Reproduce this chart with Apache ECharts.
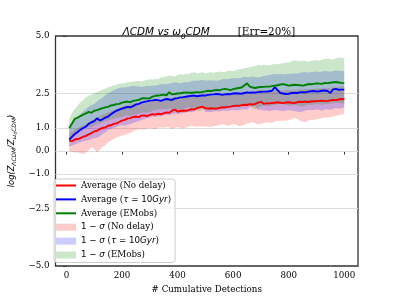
<!DOCTYPE html>
<html>
<head>
<meta charset="utf-8">
<script src="https://cdn.jsdelivr.net/npm/echarts@6/dist/echarts.min.js"></script>
<style>html,body{margin:0;padding:0;background:#fff;}#c{width:399px;height:299px;}</style>
</head>
<body>
<div id="c"></div>
<script>
const detections = [10,20,30,40,50,60,70,80,90,100,110,120,130,140,150,160,170,180,190,200,
210,220,230,240,250,260,270,280,290,300,310,320,330,340,350,360,370,380,390,400,
410,420,430,440,450,460,470,480,490,500,510,520,530,540,550,560,570,580,590,600,
610,620,630,640,650,660,670,680,690,700,710,720,730,740,750,760,770,780,790,800,
810,820,830,840,850,860,870,880,890,900,910,920,930,940,950,960,970,980,990,1000];

const xTicks = [0,200,400,600,800,1000];
const yTicks = [-5,-2.5,-1,0,1,2.5,5];
const yGrid = [-2.5,-1,0,1,2.5];

// Average (No delay)
const avgNoDelay = [0.45,0.43,0.50,0.52,0.56,0.62,0.66,0.72,0.78,0.85,0.88,0.95,1.00,1.03,1.10,1.12,1.18,1.20,1.26,1.32,
1.35,1.42,1.43,1.48,1.50,1.47,1.54,1.55,1.52,1.57,1.60,1.58,1.62,1.60,1.64,1.68,1.66,1.75,1.80,1.72,
1.74,1.76,1.75,1.78,1.82,1.80,1.86,1.90,1.92,1.86,1.84,1.86,1.85,1.84,1.87,1.90,1.89,1.92,1.93,1.95,
1.97,1.96,1.99,2.01,2.00,2.04,2.02,2.05,2.10,2.14,2.05,2.07,2.07,2.09,2.10,2.12,2.10,2.08,2.11,2.12,
2.10,2.08,2.12,2.14,2.13,2.15,2.13,2.15,2.16,2.17,2.18,2.19,2.17,2.18,2.20,2.22,2.21,2.24,2.26,2.25];
// Average (tau = 10Gyr)
const avgTau = [0.50,0.62,0.74,0.82,0.92,1.00,1.06,1.18,1.25,1.30,1.42,1.33,1.38,1.45,1.50,1.60,1.68,1.75,1.80,1.84,
1.88,1.92,1.90,1.95,2.02,2.05,2.10,2.14,2.16,2.19,2.20,2.22,2.21,2.18,2.22,2.26,2.24,2.22,2.28,2.30,
2.33,2.34,2.36,2.38,2.40,2.41,2.38,2.40,2.42,2.41,2.44,2.45,2.46,2.48,2.47,2.44,2.46,2.48,2.47,2.50,
2.51,2.50,2.49,2.52,2.55,2.53,2.55,2.54,2.56,2.57,2.58,2.58,2.60,2.62,2.78,2.65,2.52,2.50,2.48,2.49,
2.52,2.53,2.52,2.55,2.56,2.55,2.58,2.60,2.61,2.59,2.60,2.62,2.63,2.61,2.52,2.68,2.70,2.66,2.67,2.67];
// Average (EMobs)
const avgEM = [1.00,1.20,1.40,1.45,1.52,1.58,1.64,1.70,1.66,1.75,1.78,1.82,1.86,1.90,1.92,1.98,2.00,2.04,2.05,2.10,
2.13,2.15,2.12,2.18,2.20,2.22,2.28,2.30,2.28,2.30,2.36,2.40,2.41,2.43,2.45,2.42,2.56,2.46,2.48,2.50,
2.51,2.53,2.55,2.54,2.53,2.55,2.56,2.55,2.57,2.59,2.62,2.61,2.63,2.65,2.64,2.68,2.70,2.68,2.65,2.69,
2.72,2.74,2.76,2.85,2.94,2.80,2.76,2.74,2.77,2.78,2.79,2.80,2.80,2.82,2.84,2.86,2.89,2.91,2.88,2.84,
2.86,2.88,2.87,2.86,2.84,2.87,2.91,2.90,2.92,2.94,2.93,2.92,2.96,2.95,2.97,2.99,3.00,2.98,2.96,2.95];

// 1-sigma bands
const upNoDelay = [0.80,0.85,0.92,1.00,1.06,1.12,1.18,1.25,1.32,1.40,1.45,1.52,1.58,1.62,1.68,1.72,1.78,1.80,1.86,1.92,
1.95,2.00,2.02,2.06,2.08,2.05,2.10,2.12,2.10,2.14,2.16,2.15,2.18,2.16,2.20,2.24,2.22,2.30,2.34,2.28,
2.30,2.32,2.30,2.34,2.38,2.36,2.40,2.44,2.46,2.40,2.38,2.40,2.40,2.38,2.42,2.44,2.44,2.46,2.47,2.50,
2.52,2.50,2.54,2.56,2.55,2.58,2.56,2.60,2.64,2.68,2.60,2.62,2.62,2.64,2.65,2.66,2.64,2.62,2.65,2.66,
2.64,2.62,2.66,2.68,2.67,2.70,2.68,2.70,2.71,2.72,2.73,2.74,2.72,2.73,2.75,2.77,2.76,2.79,2.81,2.80];
const loNoDelay = [0.01,-0.04,-0.06,-0.05,-0.10,-0.13,-0.06,0.02,0.16,0.09,-0.06,0.05,0.19,0.25,0.38,0.45,0.52,0.59,0.62,0.67,
0.70,0.74,0.80,0.86,0.91,0.93,0.96,0.94,0.98,1.00,0.97,0.95,1.02,1.03,1.00,1.06,1.02,0.96,1.00,1.04,
1.00,0.98,1.02,1.05,1.10,1.06,1.04,1.08,1.06,1.05,1.06,1.04,1.08,1.10,1.12,1.17,1.14,1.10,1.12,1.17,
1.15,1.08,1.10,1.14,1.20,1.22,1.25,1.20,1.16,1.18,1.22,1.25,1.24,1.22,1.28,1.32,1.30,1.33,1.31,1.34,
1.38,1.43,1.40,1.32,1.28,1.25,1.32,1.36,1.34,1.38,1.40,1.42,1.46,1.45,1.48,1.50,1.52,1.56,1.58,1.61];
const upTau = [1.00,1.18,1.32,1.48,1.61,1.72,1.83,1.92,2.00,2.04,2.15,2.25,2.33,2.42,2.51,2.58,2.65,2.70,2.74,2.77,
2.76,2.78,2.80,2.84,2.82,2.80,2.78,2.80,2.84,2.83,2.85,2.84,2.88,2.90,2.91,2.90,2.94,2.96,2.99,2.97,
2.95,2.98,3.00,2.99,3.04,3.06,3.05,3.08,3.09,3.06,3.07,3.08,3.06,3.05,3.08,3.12,3.13,3.12,3.15,3.16,
3.17,3.15,3.20,3.23,3.22,3.21,3.24,3.22,3.20,3.22,3.26,3.28,3.30,3.33,3.35,3.34,3.35,3.33,3.35,3.36,
3.35,3.38,3.36,3.40,3.42,3.44,3.41,3.42,3.45,3.46,3.44,3.46,3.48,3.47,3.45,3.48,3.50,3.49,3.48,3.49];
const loTau = [0.19,0.24,0.28,0.34,0.38,0.42,0.45,0.48,0.52,0.55,0.58,0.64,0.74,0.82,0.91,0.96,1.00,1.04,1.10,1.12,
1.10,1.14,1.17,1.22,1.26,1.30,1.34,1.38,1.42,1.46,1.50,1.48,1.52,1.50,1.55,1.58,1.56,1.60,1.62,1.60,
1.63,1.65,1.67,1.70,1.68,1.72,1.88,1.92,1.90,1.70,1.68,1.70,1.72,1.74,1.72,1.75,1.76,1.74,1.77,1.78,
1.76,1.78,1.80,1.82,1.80,1.90,1.95,1.92,1.78,1.80,1.75,1.76,1.74,1.76,1.78,1.77,1.75,1.73,1.76,1.78,
1.76,1.74,1.72,1.70,1.72,1.76,1.78,1.77,1.78,1.80,1.78,1.76,1.80,1.82,1.78,1.84,1.86,1.84,1.87,1.88];
const upEM = [1.39,1.65,1.83,1.98,2.12,2.22,2.33,2.40,2.45,2.50,2.56,2.62,2.66,2.72,2.77,2.80,2.86,2.88,2.92,2.94,
2.96,2.99,3.00,3.02,3.03,3.05,3.02,3.06,3.10,3.12,3.10,3.14,3.13,3.18,3.22,3.24,3.28,3.26,3.24,3.30,
3.34,3.32,3.36,3.34,3.40,3.42,3.38,3.40,3.42,3.38,3.40,3.42,3.40,3.44,3.46,3.44,3.43,3.48,3.50,3.47,
3.52,3.55,3.56,3.60,3.62,3.64,3.68,3.70,3.74,3.72,3.75,3.73,3.72,3.76,3.78,3.77,3.80,3.82,3.86,3.84,
3.90,3.95,3.92,3.90,3.94,3.92,3.88,3.92,3.94,3.96,3.92,3.98,4.00,4.02,4.00,3.98,4.03,4.05,4.06,4.03];
const loEM = [0.55,0.65,0.75,0.82,0.90,0.95,1.00,1.05,1.02,1.10,1.15,1.20,1.25,1.30,1.32,1.38,1.40,1.45,1.46,1.50,
1.52,1.55,1.52,1.58,1.60,1.62,1.66,1.68,1.66,1.70,1.74,1.78,1.80,1.82,1.84,1.80,1.86,1.82,1.80,1.78,
1.80,1.84,1.86,1.90,1.88,1.80,1.75,1.74,1.78,1.85,1.80,1.78,1.84,1.88,1.86,1.90,1.92,1.88,1.90,1.92,
1.95,1.93,1.96,2.00,2.05,1.98,1.85,1.82,1.88,1.95,1.98,1.96,1.95,1.98,2.00,2.02,2.05,2.03,2.00,1.96,
1.98,2.00,1.98,1.96,1.94,1.98,2.02,2.00,2.02,2.04,2.03,2.00,2.05,2.04,2.06,2.08,2.10,2.08,2.06,2.05];

const SERIF = 'DejaVu Serif';
const MATH = 'DejaVu Sans';

function pairs(arr) { return detections.map((x, i) => [x, arr[i]]); }

function band(name, lo, up, fill) {
  return {
    name: name, type: 'custom', silent: true, z: 2,
    itemStyle: { color: fill },
    data: [[detections[0], lo[0]]],
    renderItem: function (params, api) {
      const pts = [];
      for (let i = 0; i < detections.length; i++) pts.push(api.coord([detections[i], up[i]]));
      for (let i = detections.length - 1; i >= 0; i--) pts.push(api.coord([detections[i], lo[i]]));
      return { type: 'polygon', shape: { points: pts }, style: { fill: fill, stroke: null } };
    }
  };
}

function avg(name, arr, color, gridLines) {
  const s = { name: name, type: 'line', data: pairs(arr), symbol: 'none', z: 3, silent: true,
    color: color, lineStyle: { color: color, width: 1.9 }, emphasis: { disabled: true } };
  if (gridLines) {
    s.markLine = {
      silent: true, symbol: 'none', label: { show: false }, animation: false, z: 1,
      lineStyle: { color: '#dddddd', width: 1, type: 'solid' },
      emphasis: { disabled: true },
      data: yGrid.map(v => ({ yAxis: v }))
    };
  }
  return s;
}

const legendText = {
  avgND: '{s|Average (No delay)}',
  avgTau: '{s|Average (}{m|τ}{n| = 10}{m|Gyr}{s|)}',
  avgEM: '{s|Average (EMobs)}',
  bandND: '{n|1 − }{m|σ}{s| (No delay)}',
  bandTau: '{n|1 − }{m|σ}{s| (}{m|τ}{n| = 10}{m|Gyr}{s|)}',
  bandEM: '{n|1 − }{m|σ}{s| (EMobs)}'
};

const linePath = 'path://M0,0M0,2.5L20,2.5L20,4.5L0,4.5ZM20,7';

const fmtY = v => (v < 0 ? '\u2212' : '') + Math.abs(v).toFixed(1);

const chart = echarts.init(document.getElementById('c'), null, { renderer: 'canvas' });
chart.setOption({
  animation: false,
  backgroundColor: '#ffffff',
  title: {
    text: '{m|ΛCDM vs ω}{sub|0}{m|CDM}{g|}{s|[Err=20%]}',
    left: 204, top: 18, textAlign: 'center',
    textStyle: {
      fontWeight: 'normal',
      rich: {
        m: { fontFamily: MATH, fontStyle: 'italic', fontWeight: 'normal', fontSize: 10.4, lineHeight: 14, color: '#000' },
        sub: { fontFamily: MATH, fontStyle: 'italic', fontWeight: 'normal', fontSize: 7.3, lineHeight: 10, verticalAlign: 'bottom', color: '#000' },
        g: { width: 28 },
        s: { fontFamily: SERIF, fontWeight: 'normal', fontSize: 10.4, lineHeight: 14, color: '#000' }
      }
    }
  },
  grid: { left: 50, right: 41, top: 36, bottom: 33, show: true, borderColor: '#333333', borderWidth: 1.3, backgroundColor: 'transparent' },
  xAxis: {
    type: 'value', min: -39.5, max: 1049.5,
    name: '# Cumulative Detections', nameLocation: 'middle', nameGap: 15,
    nameTextStyle: { fontFamily: SERIF, fontSize: 8.7, color: '#000' },
    axisLine: { show: false },
    axisTick: { show: true, customValues: xTicks, length: 3.5, lineStyle: { color: '#333', width: 1 } },
    axisLabel: { customValues: xTicks, fontFamily: SERIF, fontSize: 8.7, color: '#000', margin: 5, formatter: v => String(v) },
    splitLine: { show: false }
  },
  yAxis: {
    type: 'value', min: -5, max: 5,
    name: '{m|log(Z}{sub|ΛCDM}{m|/Z}{sub|ω}{sub2|0}{sub|CDM}{m|)}',
    nameLocation: 'middle', nameGap: 29, nameRotate: 90,
    nameTextStyle: {
      rich: {
        m: { fontFamily: MATH, fontStyle: 'italic', fontSize: 8.3, lineHeight: 11, color: '#000' },
        sub: { fontFamily: MATH, fontStyle: 'italic', fontSize: 5.9, lineHeight: 6, verticalAlign: 'bottom', color: '#000' },
        sub2: { fontFamily: MATH, fontStyle: 'italic', fontSize: 4.3, lineHeight: 3, verticalAlign: 'bottom', color: '#000' }
      }
    },
    axisLine: { show: false },
    axisTick: { show: true, customValues: yTicks, length: 3.5, lineStyle: { color: '#333', width: 1 } },
    axisLabel: { customValues: yTicks, fontFamily: SERIF, fontSize: 8.7, color: '#000', margin: 6, formatter: fmtY },
    splitLine: { show: false }
  },
  legend: {
    left: 54, top: 179, orient: 'vertical', z: 10,
    itemWidth: 20, itemHeight: 7, itemGap: 4.9,
    padding: [2, 4, 3, 2],
    backgroundColor: 'rgba(255,255,255,0.8)', borderColor: '#cccccc', borderWidth: 1, borderRadius: 3,
    selectedMode: false,
    itemStyle: { borderWidth: 0 },
    textStyle: {
      rich: {
        s: { fontFamily: SERIF, fontSize: 8.7, lineHeight: 10.5, color: '#000' },
        m: { fontFamily: MATH, fontStyle: 'italic', fontSize: 8.7, lineHeight: 10.5, color: '#000' },
        n: { fontFamily: MATH, fontSize: 8.7, lineHeight: 10.5, color: '#000' }
      }
    },
    formatter: name => legendText[name],
    data: [
      { name: 'avgND', icon: linePath, itemStyle: { color: '#ff0000' } },
      { name: 'avgTau', icon: linePath, itemStyle: { color: '#0000ff' } },
      { name: 'avgEM', icon: linePath, itemStyle: { color: '#008000' } },
      { name: 'bandND', icon: 'rect', itemStyle: { color: '#ffcccc' } },
      { name: 'bandTau', icon: 'rect', itemStyle: { color: '#ccccff' } },
      { name: 'bandEM', icon: 'rect', itemStyle: { color: '#cce6cc' } }
    ]
  },
  series: [
    band('bandND', loNoDelay, upNoDelay, 'rgba(255,0,0,0.2)'),
    band('bandTau', loTau, upTau, 'rgba(0,0,255,0.2)'),
    band('bandEM', loEM, upEM, 'rgba(0,128,0,0.2)'),
    avg('avgND', avgNoDelay, '#ff0000', true),
    avg('avgTau', avgTau, '#0000ff', false),
    avg('avgEM', avgEM, '#008000', false)
  ]
});
</script>
</body>
</html>
